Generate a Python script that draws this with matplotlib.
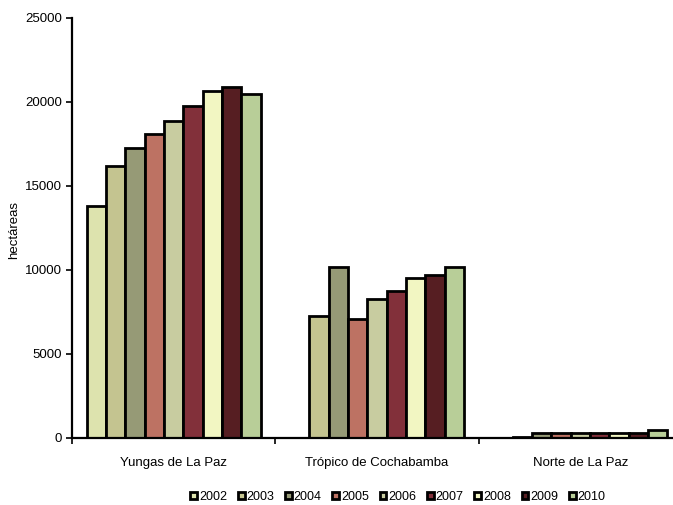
import matplotlib.pyplot as plt
import numpy as np

plt.rcParams['font.family'] = ['Liberation Sans', 'DejaVu Sans']

regions = ['Yungas de La Paz', 'Trópico de Cochabamba', 'Norte de La Paz']
years = ['2002', '2003', '2004', '2005', '2006', '2007', '2008', '2009', '2010']
colors = ['#DDE3AE', '#C4C490', '#969A76', '#BD7263', '#C8CCA0',
          '#82303A', '#F2F6C2', '#561E22', '#B8CE98']

# hectareas por region y año
yungas = [13800, 16200, 17250, 18100, 18850, 19750, 20650, 20900, 20500]
tropico = [0, 7250, 10150, 7100, 8300, 8750, 9500, 9700, 10150]
norte = [0, 50, 280, 280, 280, 280, 280, 280, 450]
values = np.array([yungas, tropico, norte])

fig = plt.figure(figsize=(6.73, 5.05), dpi=100)
ax = fig.add_axes([72/673, 67/505, 610/673, 420/505])

w = 0.095
x = np.arange(len(regions)) + 0.5
for i, yr in enumerate(years):
    ax.bar(x + (i - 4) * w, values[:, i], width=w, color=colors[i],
           edgecolor='black', linewidth=2, label=yr)

ax.set_xlim(0, 3)
ax.set_ylim(0, 25000)
ax.set_yticks(range(0, 25001, 5000))
ax.set_xticks([0, 1, 2, 3])
ax.set_xticklabels([])
ax.set_xticks(x, minor=True)
ax.set_xticklabels(regions, minor=True)
ax.tick_params(axis='x', which='minor', length=0, pad=14, labelsize=9.5)
ax.tick_params(axis='x', which='major', length=4, width=1.2)
ax.tick_params(axis='y', length=4, width=1.2, labelsize=9.5, pad=3)
for s in ['top', 'right']:
    ax.spines[s].set_visible(False)
for s in ['left', 'bottom']:
    ax.spines[s].set_linewidth(1.6)
ax.spines['bottom'].set_clip_on(False)

fig.text(14/673, 1 - 230/505, 'hectáreas', rotation=90, fontsize=9.5,
         ha='center', va='center')

fig.legend(loc='center', bbox_to_anchor=(398/673, 1 - 497/505), ncol=9,
           frameon=False, fontsize=9, handlelength=0.55, handleheight=0.55,
           handletextpad=0.15, columnspacing=0.85)

fig.savefig('out.png', dpi=100)
